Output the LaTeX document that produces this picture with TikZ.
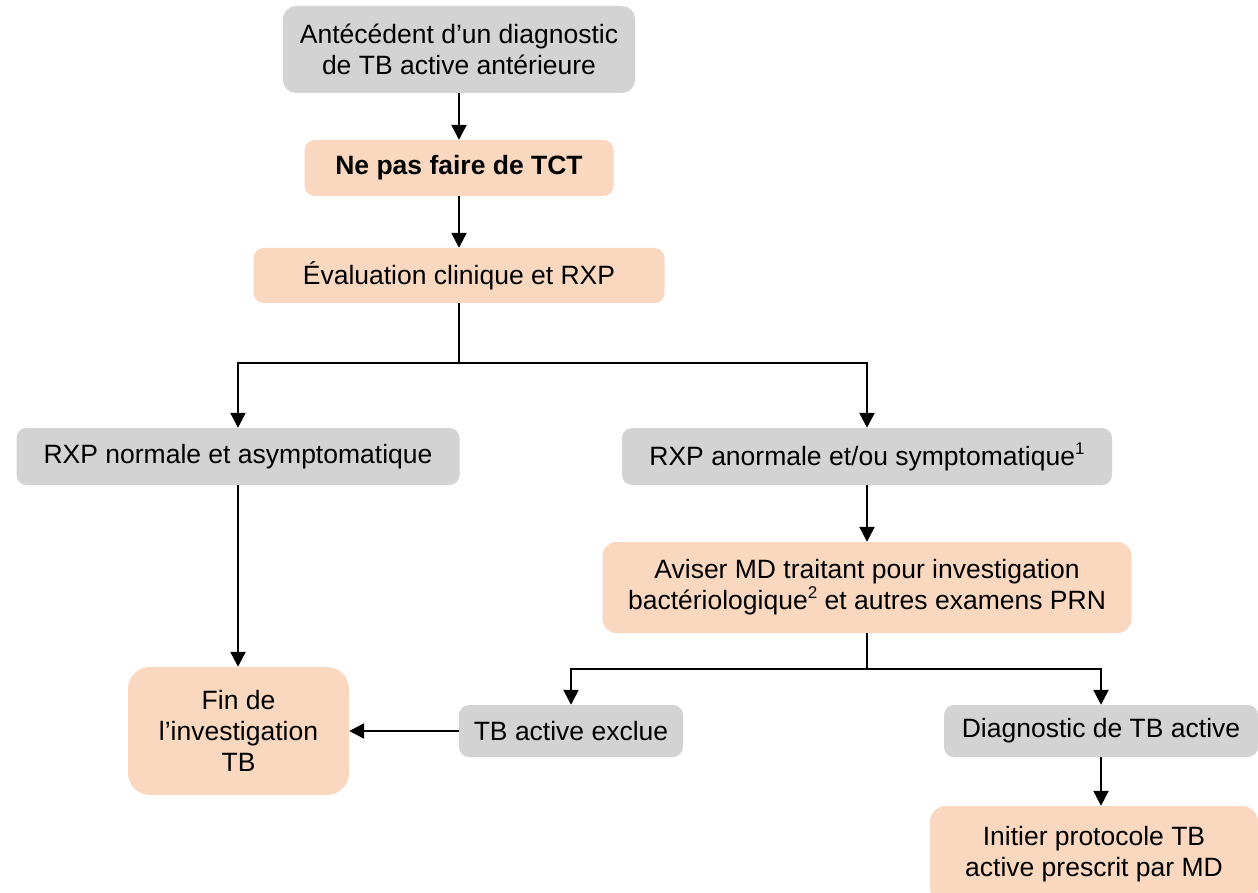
\documentclass[tikz,border=0pt]{standalone}
\usepackage{fontspec}
\setmainfont{Liberation Sans}
\usetikzlibrary{arrows.meta}
\definecolor{boxgray}{RGB}{211,211,211}
\definecolor{boxpeach}{RGB}{250,216,192}
\newcommand{\supnum}[1]{\raisebox{0.42em}{\fontsize{17}{17}\selectfont #1}}
\tikzset{
  box/.style={rounded corners=10pt, inner sep=0pt, align=center,
    font=\fontsize{26.5}{31}\selectfont, text=black},
  graybox/.style={box, fill=boxgray},
  peachbox/.style={box, fill=boxpeach},
  conn/.style={line width=2.4pt, draw=black},
  arr/.style={conn, -{Triangle[length=15pt,width=15pt]}},
}
\begin{document}
\begin{tikzpicture}[x=1pt,y=-1pt]
\useasboundingbox (0,0) rectangle (1258,893);
\clip (0,0) rectangle (1258,893);
\node[graybox, rounded corners=13pt, minimum width=352pt, minimum height=87pt] (n1) at (459,49.5)
  {Antécédent d’un diagnostic\\de TB active antérieure};
\node[peachbox, minimum width=309pt, minimum height=56pt, font=\fontsize{26.5}{31}\selectfont\bfseries] (n2) at (459,168)
  {Ne pas faire de TCT};
\node[peachbox, minimum width=411pt, minimum height=55pt] (n3) at (459,275.5)
  {Évaluation clinique et RXP};
\node[graybox, minimum width=443pt, minimum height=57pt] (n4) at (238,456.5)
  {RXP normale et asymptomatique};
\node[graybox, minimum width=490pt, minimum height=57pt] (n5) at (867,456.5)
  {RXP anormale et/ou symptomatique\supnum{1}};
\node[peachbox, rounded corners=14pt, minimum width=529pt, minimum height=91pt] (n6) at (867,587.5)
  {Aviser MD traitant pour investigation\\bactériologique\supnum{2} et autres examens PRN};
\node[peachbox, rounded corners=22pt, minimum width=221pt, minimum height=128pt] (n7) at (238.5,731)
  {Fin de\\l’investigation\\TB};
\node[graybox, minimum width=224pt, minimum height=52pt] (n8) at (571,731)
  {TB active exclue};
\node[graybox, minimum width=314pt, minimum height=52pt] (n9) at (1101,731)
  {Diagnostic de TB active};
\node[peachbox, rounded corners=16pt, minimum width=328pt, minimum height=97pt] (n10) at (1094,854.5)
  {Initier protocole TB\\active prescrit par MD};
\coordinate (s1) at (459,363);
\coordinate (s2) at (867,669);
\draw[arr] (n1) -- (n2);
\draw[arr] (n2) -- (n3);
\draw[conn] (n3) -- (s1);
\draw[arr] (s1) -| (n4);
\draw[arr] (s1) -| (n5);
\draw[arr] (n4.south) -- (n4.south |- n7.north);
\draw[arr] (n5) -- (n6);
\draw[conn] (n6) -- (s2);
\draw[arr] (s2) -| (n8);
\draw[arr] (s2) -| (n9);
\draw[arr] (n8) -- (n7);
\draw[arr] (n9.south) -- (n9.south |- n10.north);
\end{tikzpicture}
\end{document}
